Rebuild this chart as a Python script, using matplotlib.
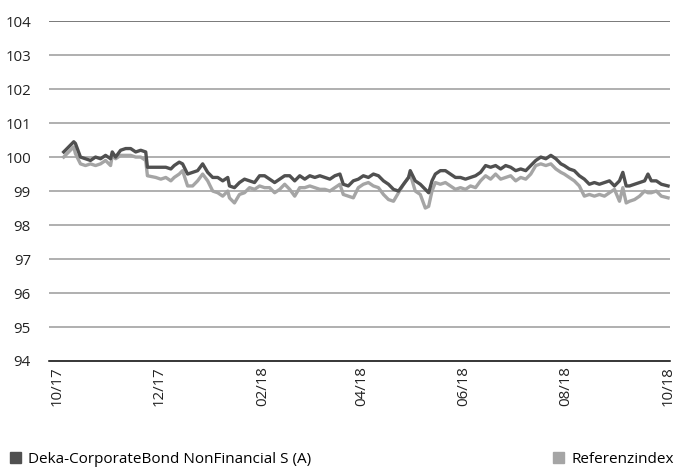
import numpy as np
import pandas as pd
import matplotlib
matplotlib.use("Agg")
import matplotlib.pyplot as plt
from matplotlib.patches import Patch

plt.rcParams['font.family'] = ['Open Sans', 'DejaVu Sans']

# days since 2017-10-01
days = [4, 7, 10, 11, 14, 17, 20, 23, 26, 29, 32, 33, 35, 38, 41, 44, 47, 50, 53, 54,
        59, 62, 65, 68, 70, 73, 75, 78, 81, 84, 87, 90, 93, 96, 99, 102, 103, 106, 109, 112,
        115, 118, 121, 124, 127, 130, 133, 136, 139, 142, 145, 148, 151, 154, 157, 160, 163, 166, 169, 171,
        174, 177, 180, 183, 186, 189, 192, 195, 198, 201, 204, 207, 210, 211, 214, 217, 220, 222, 224, 226,
        229, 232, 235, 238, 241, 244, 247, 250, 253, 256, 259, 262, 265, 268, 271, 274, 277, 280, 283, 286,
        289, 292, 295, 298, 301, 303, 306, 309, 312, 315, 318, 321, 324, 327, 330, 333, 336, 338, 340, 342,
        345, 348, 351, 353, 355, 358, 361, 365]

fonds = [100.15, 100.3, 100.45, 100.4, 100.0, 99.95, 99.9, 100.0, 99.95, 100.05, 99.95, 100.15, 100.0, 100.2, 100.25, 100.25, 100.15, 100.2, 100.15, 99.7,
         99.7, 99.7, 99.7, 99.65, 99.75, 99.85, 99.8, 99.5, 99.55, 99.6, 99.8, 99.55, 99.4, 99.4, 99.3, 99.4, 99.15, 99.1, 99.25, 99.35,
         99.3, 99.25, 99.45, 99.45, 99.35, 99.25, 99.35, 99.45, 99.45, 99.3, 99.45, 99.35, 99.45, 99.4, 99.45, 99.4, 99.35, 99.45, 99.5, 99.2,
         99.15, 99.3, 99.35, 99.45, 99.4, 99.5, 99.45, 99.3, 99.2, 99.05, 99.0, 99.2, 99.4, 99.6, 99.3, 99.2, 99.05, 98.95, 99.3, 99.5,
         99.6, 99.6, 99.5, 99.4, 99.4, 99.35, 99.4, 99.45, 99.55, 99.75, 99.7, 99.75, 99.65, 99.75, 99.7, 99.6, 99.65, 99.6, 99.75, 99.9,
         100.0, 99.95, 100.05, 99.95, 99.8, 99.75, 99.65, 99.6, 99.45, 99.35, 99.2, 99.25, 99.2, 99.25, 99.3, 99.15, 99.3, 99.55, 99.15, 99.15,
         99.2, 99.25, 99.3, 99.5, 99.3, 99.3, 99.2, 99.15]

referenz = [100.0, 100.15, 100.3, 100.1, 99.8, 99.75, 99.8, 99.75, 99.8, 99.9, 99.75, 100.05, 99.95, 100.05, 100.05, 100.05, 100.0, 100.0, 99.9, 99.45,
            99.4, 99.35, 99.4, 99.3, 99.4, 99.5, 99.6, 99.15, 99.15, 99.3, 99.5, 99.3, 99.0, 98.95, 98.85, 99.0, 98.8, 98.65, 98.9, 98.95,
            99.1, 99.05, 99.15, 99.1, 99.1, 98.95, 99.05, 99.2, 99.05, 98.85, 99.1, 99.1, 99.15, 99.1, 99.05, 99.05, 99.0, 99.1, 99.2, 98.9,
            98.85, 98.8, 99.1, 99.2, 99.25, 99.15, 99.1, 98.9, 98.75, 98.7, 98.95, 99.2, 99.4, 99.5, 99.0, 98.9, 98.5, 98.55, 99.0, 99.25,
            99.2, 99.25, 99.15, 99.05, 99.1, 99.05, 99.15, 99.1, 99.3, 99.45, 99.35, 99.5, 99.35, 99.4, 99.45, 99.3, 99.4, 99.35, 99.5, 99.75,
            99.8, 99.75, 99.8, 99.65, 99.55, 99.5, 99.4, 99.3, 99.15, 98.85, 98.9, 98.85, 98.9, 98.85, 98.95, 99.05, 98.7, 99.1, 98.65, 98.7,
            98.75, 98.85, 99.0, 98.95, 98.95, 99.0, 98.85, 98.8]

tick_dates = ["2017-10-01", "2017-12-01", "2018-02-01", "2018-04-01", "2018-06-01", "2018-08-01", "2018-10-01"]
tick_labels = ["10/17", "12/17", "02/18", "04/18", "06/18", "08/18", "10/18"]

start = pd.Timestamp("2017-10-01")
dates = start + pd.to_timedelta(days, unit="D")
ticks = pd.to_datetime(tick_dates)

dark = "#505050"
light = "#a5a5a5"

fig = plt.figure(figsize=(6.84, 4.69), dpi=100)
ax = fig.add_axes([0.0716, 0.2303, 0.908, 0.7247])

for v in range(95, 104):
    ax.axhline(v, color="#9a9a9a", lw=1.1, zorder=1)
ax.axhline(104, color="#555555", lw=1.1, zorder=1)

ax.plot(dates, referenz, color=light, lw=2.4, zorder=3)
ax.plot(dates, fonds, color=dark, lw=2.4, zorder=4)

ax.set_ylim(94, 104)
ax.set_yticks(range(94, 105))
ax.set_xlim(start - pd.Timedelta(days=4.8), start + pd.Timedelta(days=366.2))
ax.set_xticks(ticks)
ax.set_xticklabels(tick_labels, rotation=90)

for s in ["top", "right", "left"]:
    ax.spines[s].set_visible(False)
ax.spines["bottom"].set_color("black")
ax.spines["bottom"].set_linewidth(1.1)
ax.tick_params(axis="both", length=0, labelsize=10.8, colors="#222222")
ax.tick_params(axis="y", pad=13)
ax.tick_params(axis="x", pad=4)

fig.legend(handles=[Patch(color=dark)], labels=["Deka-CorporateBond NonFinancial S (A)"],
           loc="lower left", bbox_to_anchor=(-0.006, -0.025), frameon=False, fontsize=11,
           handlelength=0.75, handleheight=0.75, handletextpad=0.45)
fig.legend(handles=[Patch(color=light)], labels=["Referenzindex"],
           loc="lower left", bbox_to_anchor=(0.788, -0.025), frameon=False, fontsize=11,
           handlelength=0.75, handleheight=0.75, handletextpad=0.45)

fig.savefig("out.png", dpi=100)
